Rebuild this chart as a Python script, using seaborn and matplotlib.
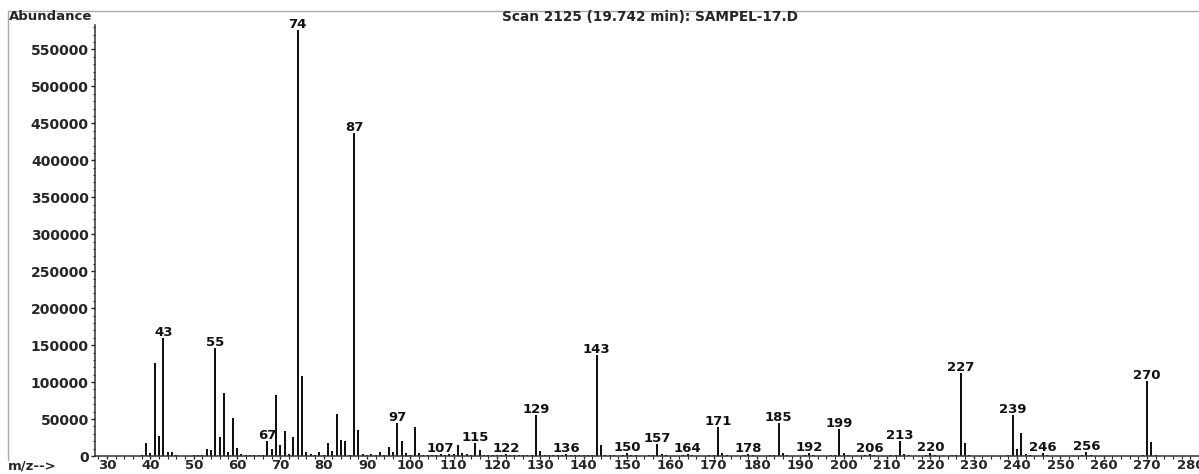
import pandas as pd
import matplotlib
matplotlib.use('Agg')
import matplotlib.pyplot as plt
import seaborn as sns
from matplotlib.lines import Line2D
from matplotlib.ticker import MultipleLocator

# mass spectrum (m/z, abundance)
mz = [38, 39, 40, 41, 42, 43, 44, 45, 46, 50, 51, 52, 53, 54, 55, 56, 57, 58, 59, 60,
      61, 62, 63, 64, 65, 66, 67, 68, 69, 70, 71, 72, 73, 74, 75, 76, 77, 78, 79, 80,
      81, 82, 83, 84, 85, 86, 87, 88, 89, 90, 91, 92, 93, 94, 95, 96, 97, 98, 99, 100,
      101, 102, 103, 104, 105, 106, 107, 108, 109, 110, 111, 112, 113, 114, 115, 116, 117, 118, 119, 120,
      121, 122, 123, 124, 125, 126, 127, 128, 129, 130, 131, 132, 133, 134, 135, 136, 137, 138, 139, 140,
      141, 142, 143, 144, 145, 146, 147, 149, 150, 151, 152, 155, 156, 157, 158, 159, 163, 164, 165, 169,
      170, 171, 172, 173, 177, 178, 179, 183, 184, 185, 186, 187, 191, 192, 193, 197, 198, 199, 200, 201,
      205, 206, 207, 211, 212, 213, 214, 215, 219, 220, 221, 225, 226, 227, 228, 229, 238, 239, 240, 241,
      242, 243, 246, 247, 255, 256, 257, 269, 270, 271, 272]
abundance = [1500, 18000, 3700, 126000, 27500, 159000, 5800, 5000, 1000, 800, 1200, 1000, 9000, 8000, 146000, 26000, 85000, 5500, 52000, 11000,
             3000, 1200, 1000, 800, 2000, 1500, 20000, 9000, 83000, 14500, 34000, 3000, 26000, 576000, 108000, 6000, 3000, 1500, 5000, 1500,
             17000, 7000, 57000, 21000, 20000, 2000, 437000, 34500, 2500, 1200, 3000, 1000, 5000, 2000, 12700, 6000, 44000, 20500, 4500, 1500,
             39500, 3500, 1500, 800, 2000, 1000, 3000, 1000, 2500, 3000, 15000, 3500, 2500, 1000, 18000, 8000, 2000, 1000, 1500, 1000,
             1500, 2500, 2000, 1000, 1500, 1000, 2000, 1500, 56000, 6500, 2000, 1000, 1500, 1000, 1500, 3000, 1500, 1000, 1500, 1000,
             1500, 1500, 136600, 14500, 2000, 800, 1000, 1000, 3500, 1000, 800, 1000, 1500, 16000, 3000, 1000, 1000, 3000, 1000, 1000,
             1500, 39000, 4000, 1000, 1000, 3000, 800, 1000, 1500, 44500, 4000, 1000, 800, 3500, 1000, 1000, 1500, 36300, 4000, 1000,
             800, 3000, 800, 1000, 1500, 20500, 3000, 800, 800, 3500, 800, 1000, 1500, 112600, 18000, 2000, 1500, 55000, 9000, 31700,
             3000, 1000, 4500, 1000, 1000, 5500, 1000, 1500, 101000, 19500, 2000]

labelled_mz = [43, 55, 67, 74, 87, 97, 107, 115, 122, 129, 136, 143, 150, 157, 164,
               171, 178, 185, 192, 199, 206, 213, 220, 227, 239, 246, 256, 270]

x_ticks = list(range(30, 290, 10))
y_ticks = list(range(0, 583000, 50000))

title = 'Scan 2125 (19.742 min): SAMPEL-17.D'

df = pd.DataFrame({'mz': mz, 'abundance': abundance})

sns.set_theme(style='white')
plt.rcParams['font.family'] = ['DejaVu Sans']
plt.rcParams['font.weight'] = 'bold'

W, H = 1199, 474
fig = plt.figure(figsize=(W / 100, H / 100), dpi=100)
ax = fig.add_axes([95 / W, 18 / H, (W - 95) / W, (456 - 25) / H])

sns.histplot(data=df, x='mz', weights='abundance', discrete=True, shrink=0.45,
             color='#111111', edgecolor='none', alpha=1, ax=ax)

ax.set_xlabel('')
ax.set_ylabel('')

# peak labels just above the stem
lookup = dict(zip(mz, abundance))
for m in labelled_mz:
    ax.annotate(str(m), xy=(m, lookup[m]), xytext=(0, 1.5), textcoords='offset points',
                ha='center', va='baseline', fontsize=9.5, fontweight='bold',
                color='#111111', annotation_clip=False)

# ticks
ax.xaxis.set_minor_locator(MultipleLocator(2))
ax.yaxis.set_minor_locator(MultipleLocator(10000))
ax.set_xticks(x_ticks)
ax.set_xticklabels([str(v) for v in x_ticks], fontweight='bold')
ax.set_yticks(y_ticks)
ax.set_yticklabels([str(v) for v in y_ticks], fontweight='bold')
ax.tick_params(axis='y', which='major', direction='out', length=3, width=1,
               color='#222222', labelsize=10, pad=1.5, left=True)
ax.tick_params(axis='x', which='major', direction='out', length=2.5, width=1,
               color='#222222', labelsize=9.5, pad=0, bottom=True)
ax.tick_params(axis='both', which='minor', direction='out', length=1.8, width=0.8,
               color='#222222', bottom=True, left=True)
ax.set_xlim(27.2, 282)
ax.set_ylim(0, 583000)

for side in ['top', 'right']:
    ax.spines[side].set_visible(False)
for side in ['left', 'bottom']:
    ax.spines[side].set_color('#333333')
    ax.spines[side].set_linewidth(1.1)

# texts around the plot
fig.text(9 / W, 1 - 17 / H, 'Abundance', ha='left', va='center', fontsize=9.5, fontweight='bold')
fig.text(650 / W, 1 - 17 / H, title, ha='center', va='center', fontsize=9.8, fontweight='bold')
fig.text(8 / W, 1 - 466 / H, 'm/z-->', ha='left', va='center', fontsize=9.5, fontweight='bold')

# thin grey frame at top and left
fig.add_artist(Line2D([8 / W, 1], [1 - 11 / H, 1 - 11 / H], color='#aaaaaa', lw=1))
fig.add_artist(Line2D([8 / W, 8 / W], [1 - 11 / H, 1 - 460 / H], color='#aaaaaa', lw=1))

fig.savefig('out.png', dpi=100)
